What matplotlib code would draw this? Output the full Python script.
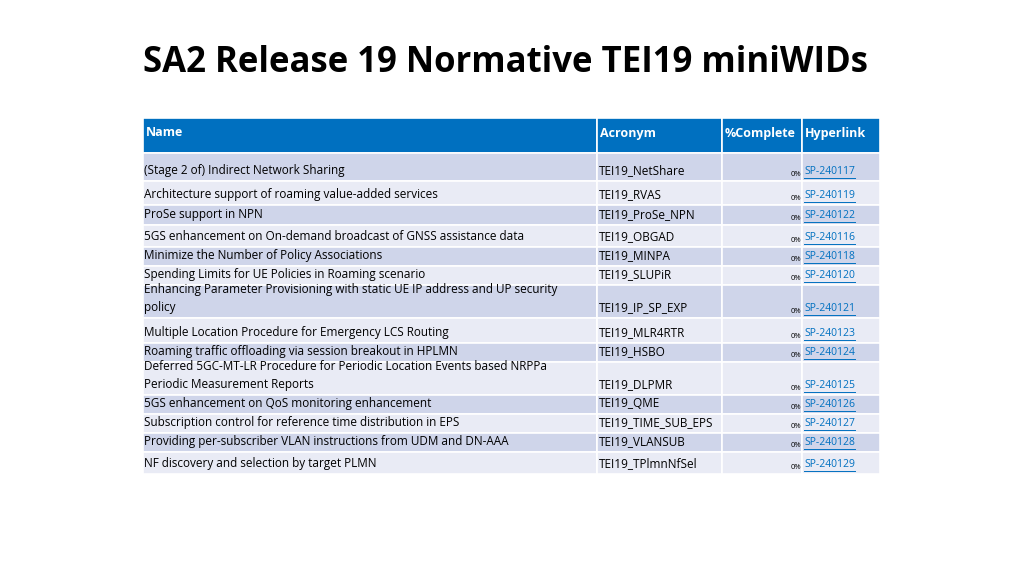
import matplotlib.pyplot as plt

plt.rcParams['font.family'] = ['Open Sans', 'DejaVu Sans']

title = "SA2 Release 19 Normative TEI19 miniWIDs"
headers = ["Name", "Acronym", "%Complete", "Hyperlink"]
names = [
    "(Stage 2 of) Indirect Network Sharing",
    "Architecture support of roaming value-added services",
    "ProSe support in NPN",
    "5GS enhancement on On-demand broadcast of GNSS assistance data",
    "Minimize the Number of Policy Associations",
    "Spending Limits for UE Policies in Roaming scenario",
    "Enhancing Parameter Provisioning with static UE IP address and UP security\npolicy",
    "Multiple Location Procedure for Emergency LCS Routing",
    "Roaming traffic offloading via session breakout in HPLMN",
    "Deferred 5GC-MT-LR Procedure for Periodic Location Events based NRPPa\nPeriodic Measurement Reports",
    "5GS enhancement on QoS monitoring enhancement",
    "Subscription control for reference time distribution in EPS",
    "Providing per-subscriber VLAN instructions from UDM and DN-AAA",
    "NF discovery and selection by target PLMN",
]
acronyms = ["TEI19_NetShare", "TEI19_RVAS", "TEI19_ProSe_NPN", "TEI19_OBGAD",
            "TEI19_MINPA", "TEI19_SLUPiR", "TEI19_IP_SP_EXP", "TEI19_MLR4RTR",
            "TEI19_HSBO", "TEI19_DLPMR", "TEI19_QME", "TEI19_TIME_SUB_EPS",
            "TEI19_VLANSUB", "TEI19_TPlmnNfSel"]
complete = ["0%"] * 14
links = ["SP-240117", "SP-240119", "SP-240122", "SP-240116", "SP-240118",
         "SP-240120", "SP-240121", "SP-240123", "SP-240124", "SP-240125",
         "SP-240126", "SP-240127", "SP-240128", "SP-240129"]

# layout (pixels)
col_x = [143, 597, 722, 802, 880]
header_top, header_bot = 118, 153
row_edges = [153, 181, 205, 225, 247, 266, 285, 318, 343, 362, 395, 414, 433, 452, 474]
dark, light, blue = "#cfd5ea", "#e9ebf5", "#0070c0"

fig = plt.figure(figsize=(10.24, 5.75), dpi=100)
ax = fig.add_axes([0, 0, 1, 1])
ax.set_xlim(0, 1024)
ax.set_ylim(575, 0)
ax.axis('off')

ax.text(143, 63, title, fontsize=25, fontweight='bold', va='center', color='black')

for j, h in enumerate(headers):
    ax.add_patch(plt.Rectangle((col_x[j], header_top), col_x[j + 1] - col_x[j],
                               header_bot - header_top, fc=blue, ec='white', lw=1.2))
    ax.text(col_x[j] + 3, 133, h, color='white', fontsize=9, fontweight='bold', va='center')

for i in range(len(names)):
    top, bot = row_edges[i], row_edges[i + 1]
    fc = dark if i % 2 == 0 else light
    for j in range(4):
        ax.add_patch(plt.Rectangle((col_x[j], top), col_x[j + 1] - col_x[j], bot - top,
                                   fc=fc, ec='white', lw=1.2))
    ax.text(col_x[0] + 1, bot - 4, names[i], fontsize=8.5, va='bottom', linespacing=1.55)
    ax.text(col_x[1] + 2, bot - 4, acronyms[i], fontsize=8.5, va='bottom')
    ax.text(col_x[3] - 1, bot - 3, complete[i], fontsize=5.5, va='bottom', ha='right')
    t = ax.text(col_x[3] + 2, bot - 4, links[i], fontsize=7.5, va='bottom', color=blue)
    ax.plot([col_x[3] + 2, col_x[3] + 53], [bot - 3, bot - 3], color=blue, lw=0.7)

fig.savefig("out.png", dpi=100)
